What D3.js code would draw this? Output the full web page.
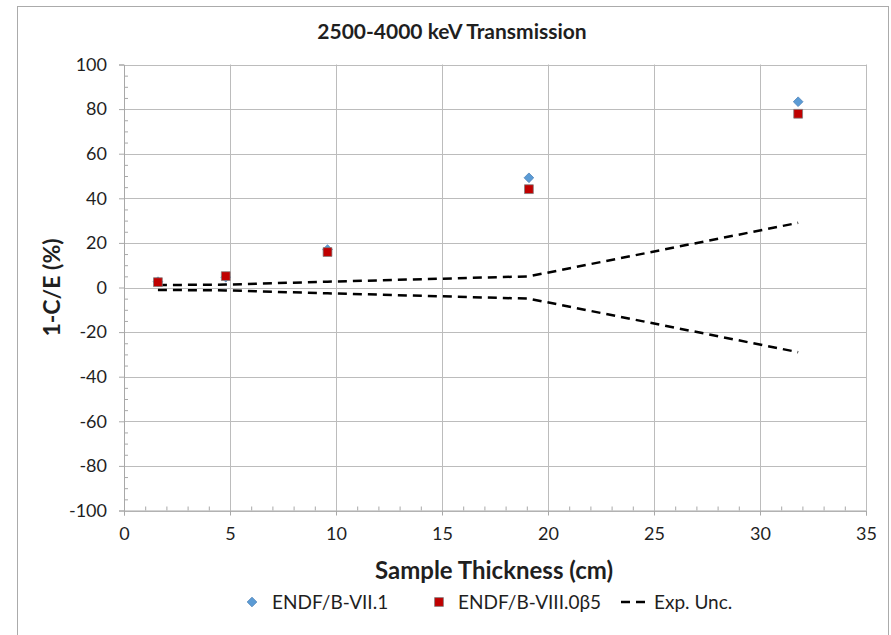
<!DOCTYPE html>
<html>
<head>
<meta charset="utf-8">
<script src="https://cdn.jsdelivr.net/npm/d3@7"></script>
<style>
  html, body { margin: 0; padding: 0; background: #fff; }
  svg { display: block; font-family: Lato, "Open Sans", sans-serif; }
</style>
</head>
<body>
<svg id="chart" width="891" height="635"></svg>
<script>
// data
const thickness = [1.6, 4.8, 9.6, 19.1, 31.8];
const endf71 = [2.6, 4.6, 17.0, 49.2, 83.3];
const endf80b5 = [2.4, 5.1, 15.9, 44.1, 77.9];
const expUncUpper = [1.1, 1.3, 2.6, 5.0, 29.0];
const expUncLower = [-1.1, -1.3, -2.6, -5.0, -29.0];
const xTicks = [0, 5, 10, 15, 20, 25, 30, 35];
const yTicks = [-100, -80, -60, -40, -20, 0, 20, 40, 60, 80, 100];
const legendLabels = ['ENDF/B-VII.1', 'ENDF/B-VIII.0β5', 'Exp. Unc.'];

const svg = d3.select('#chart');

const margin = { top: 64.5, right: 25, bottom: 124.5, left: 124 };
const width = 891, height = 635;

const x = d3.scaleLinear().domain([0, 35]).range([margin.left, width - margin.right]);
const y = d3.scaleLinear().domain([-100, 100]).range([height - margin.bottom, margin.top]);

const gridColor = '#bcbcbc';
const axisColor = '#a8a8a8';
const textColor = '#1f1f1f';

// outer chart border
svg.append('rect')
  .attr('x', 17.5).attr('y', 6.5)
  .attr('width', 871).attr('height', 650)
  .attr('fill', 'none')
  .attr('stroke', '#ababab')
  .attr('stroke-width', 1);

// gridlines
const grid = svg.append('g');
grid.selectAll('line.h')
  .data(yTicks)
  .join('line')
  .attr('x1', x(0)).attr('x2', x(35))
  .attr('y1', d => Math.round(y(d)) + 0.5).attr('y2', d => Math.round(y(d)) + 0.5)
  .attr('stroke', gridColor);
grid.selectAll('line.v')
  .data(xTicks.slice(1))
  .join('line')
  .attr('x1', d => Math.round(x(d)) + 0.5).attr('x2', d => Math.round(x(d)) + 0.5)
  .attr('y1', y(100)).attr('y2', y(-100))
  .attr('stroke', gridColor);

// y axis
const yAxis = svg.append('g')
  .attr('transform', `translate(${x(0)},0)`)
  .call(d3.axisLeft(y).tickValues(yTicks).tickSize(5).tickPadding(12).tickFormat(d => String(d)));
yAxis.select('.domain').attr('stroke', axisColor);
yAxis.selectAll('.tick line').attr('stroke', axisColor);
yAxis.selectAll('.tick text')
  .attr('font-family', 'Lato, sans-serif')
  .attr('font-size', 18)
  .attr('fill', textColor);

const yMinor = svg.append('g')
  .attr('transform', `translate(${x(0)},0)`)
  .call(d3.axisLeft(y).tickValues(d3.range(-100, 101, 5).filter(v => v % 20 !== 0)).tickSize(-4).tickFormat(''));
yMinor.select('.domain').remove();
yMinor.selectAll('.tick line').attr('stroke', axisColor);

// x axis
const xAxis = svg.append('g')
  .attr('transform', `translate(0,${y(-100)})`)
  .call(d3.axisBottom(x).tickValues(xTicks).tickSize(5).tickPadding(12).tickFormat(d => String(d)));
xAxis.select('.domain').attr('stroke', axisColor);
xAxis.selectAll('.tick line').attr('stroke', axisColor);
xAxis.selectAll('.tick text')
  .attr('font-family', 'Lato, sans-serif')
  .attr('font-size', 18)
  .attr('fill', textColor);

const xMinor = svg.append('g')
  .attr('transform', `translate(0,${y(-100)})`)
  .call(d3.axisBottom(x).tickValues(d3.range(0, 36, 1).filter(v => v % 5 !== 0)).tickSize(-4).tickFormat(''));
xMinor.select('.domain').remove();
xMinor.selectAll('.tick line').attr('stroke', axisColor);

// exp. uncertainty band
const line = d3.line()
  .x(d => x(d[0]))
  .y(d => y(d[1]));

[expUncUpper, expUncLower].forEach(vals => {
  svg.append('path')
    .datum(thickness.map((t, i) => [t, vals[i]]))
    .attr('fill', 'none')
    .attr('stroke', '#000')
    .attr('stroke-width', 2.5)
    .attr('stroke-dasharray', '9,6')
    .attr('d', line);
});

// markers
const diamond = d3.symbol().type(d3.symbolDiamond2).size(60);
const square = d3.symbol().type(d3.symbolSquare).size(78);

svg.append('g')
  .selectAll('path')
  .data(thickness.map((t, i) => [t, endf71[i]]))
  .join('path')
  .attr('transform', d => `translate(${x(d[0])},${y(d[1])})`)
  .attr('d', diamond)
  .attr('fill', '#5b9bd5')
  .attr('stroke', '#4a7fb5')
  .attr('stroke-width', 0.75);

svg.append('g')
  .selectAll('path')
  .data(thickness.map((t, i) => [t, endf80b5[i]]))
  .join('path')
  .attr('transform', d => `translate(${x(d[0])},${y(d[1])})`)
  .attr('d', square)
  .attr('fill', '#c00000')
  .attr('stroke', '#7f7f7f')
  .attr('stroke-width', 0.75);

// titles
svg.append('text')
  .attr('x', 452).attr('y', 39)
  .attr('text-anchor', 'middle')
  .attr('font-weight', 'bold')
  .attr('font-size', 21)
  .attr('fill', textColor)
  .text('2500-4000 keV Transmission');

svg.append('text')
  .attr('x', 494).attr('y', 579)
  .attr('text-anchor', 'middle')
  .attr('font-weight', 'bold')
  .attr('font-size', 24)
  .attr('fill', textColor)
  .text('Sample Thickness (cm)');

svg.append('text')
  .attr('transform', `translate(60,${y(0)}) rotate(-90)`)
  .attr('text-anchor', 'middle')
  .attr('font-weight', 'bold')
  .attr('font-size', 23)
  .attr('fill', textColor)
  .text('1-C/E (%)');

// legend
const legendY = 602;
const legend = svg.append('g').attr('font-size', 19).attr('fill', textColor);

legend.append('path')
  .attr('transform', `translate(252,${legendY})`)
  .attr('d', diamond)
  .attr('fill', '#5b9bd5')
  .attr('stroke', '#4a7fb5')
  .attr('stroke-width', 0.75);
legend.append('text').attr('x', 272).attr('y', legendY).attr('dy', '0.35em').text(legendLabels[0]);

legend.append('path')
  .attr('transform', `translate(439,${legendY})`)
  .attr('d', square)
  .attr('fill', '#c00000')
  .attr('stroke', '#7f7f7f')
  .attr('stroke-width', 0.75);
legend.append('text').attr('x', 458).attr('y', legendY).attr('dy', '0.35em').text(legendLabels[1]);

legend.append('line')
  .attr('x1', 621).attr('x2', 646)
  .attr('y1', legendY).attr('y2', legendY)
  .attr('stroke', '#000')
  .attr('stroke-width', 2.5)
  .attr('stroke-dasharray', '9,6');
legend.append('text').attr('x', 654).attr('y', legendY).attr('dy', '0.35em').text(legendLabels[2]);
</script>
</body>
</html>
